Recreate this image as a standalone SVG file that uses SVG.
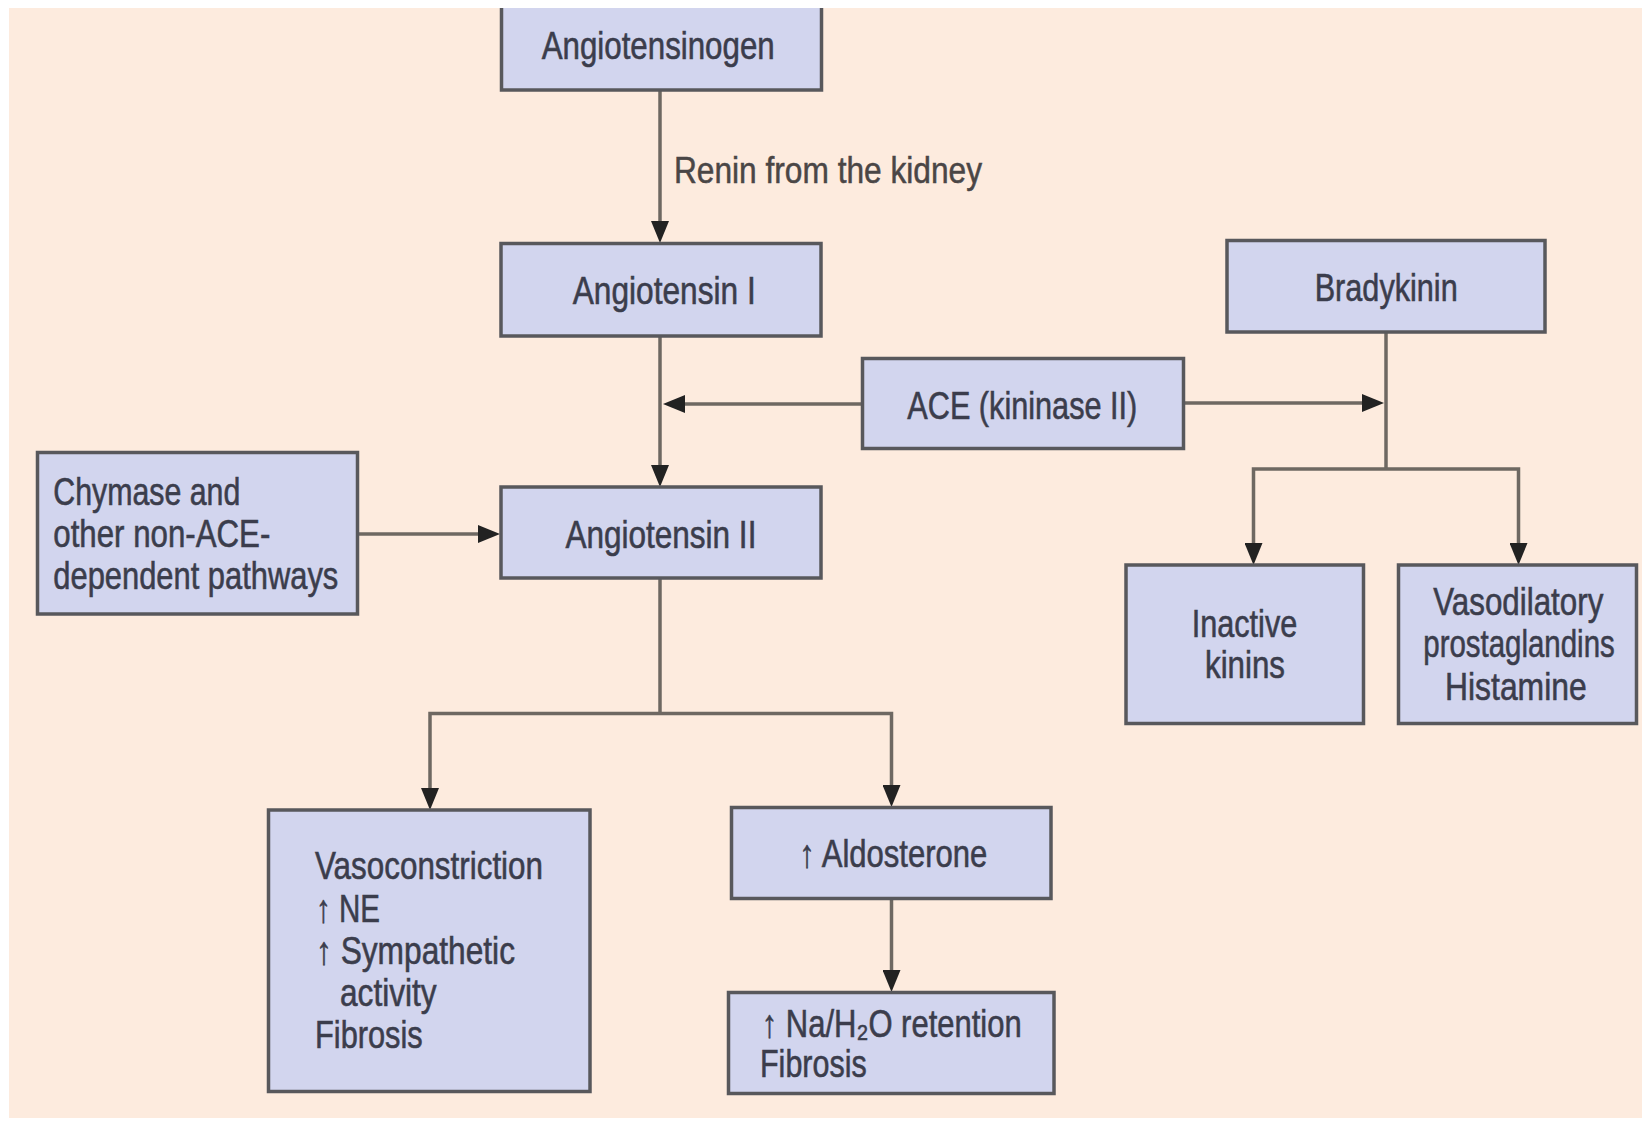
<svg xmlns="http://www.w3.org/2000/svg" width="1642" height="1121" viewBox="0 0 1642 1121">
  <style>
    .box { fill: #d2d5ee; stroke: #58585c; stroke-width: 3.5; }
    .lbl { font-family: "Liberation Sans Narrow", "Liberation Sans", Arial, sans-serif; font-size: 39px; fill: #3b3d4c; stroke: #3b3d4c; stroke-width: 0.6; }
    .note { font-family: "Liberation Sans Narrow", "Liberation Sans", Arial, sans-serif; font-size: 36px; fill: #4a4646; stroke: #4a4646; stroke-width: 0.5; }
    .wire { fill: none; stroke: #6e6862; stroke-width: 3.5; }
    .arr { marker-end: url(#head); }
  </style>
  <defs>
    <marker id="head" viewBox="0 0 22 18" refX="12" refY="9" markerWidth="22" markerHeight="18" markerUnits="userSpaceOnUse" orient="auto">
      <path d="M0,0 L22,9 L0,18 Z" fill="#222"/>
    </marker>
  </defs>

  <!-- page and panel -->
  <rect x="0" y="0" width="1642" height="1121" fill="#ffffff"/>
  <rect x="9" y="8" width="1633" height="1110" fill="#fdebde"/>

  <!-- connectors -->
  <g id="connectors">
    <line class="wire arr" x1="660" y1="91" x2="660" y2="233"/>
    <line class="wire arr" x1="660" y1="336" x2="660" y2="477"/>
    <line class="wire arr" x1="862" y1="404" x2="673" y2="404"/>
    <line class="wire arr" x1="1184" y1="403" x2="1374" y2="403"/>
    <polyline class="wire" points="1386,332 1386,469"/>
    <polyline class="wire arr" points="1386,469 1253.5,469 1253.5,555"/>
    <polyline class="wire arr" points="1386,469 1518.5,469 1518.5,555"/>
    <line class="wire arr" x1="357" y1="534" x2="490" y2="534"/>
    <polyline class="wire" points="660,578 660,713.5"/>
    <polyline class="wire arr" points="660,713.5 430,713.5 430,800"/>
    <polyline class="wire arr" points="660,713.5 891.5,713.5 891.5,797"/>
    <line class="wire arr" x1="891.5" y1="898" x2="891.5" y2="982"/>
  </g>

  <g id="n-angiotensinogen">
    <rect class="box" x="501.5" y="-20" width="320" height="110"/>
    <text class="lbl" x="541.7" y="59" textLength="233" lengthAdjust="spacingAndGlyphs">Angiotensinogen</text>
  </g>

  <text class="note" x="674" y="182.7" textLength="308" lengthAdjust="spacingAndGlyphs">Renin from the kidney</text>

  <g id="n-angiotensin-1">
    <rect class="box" x="501" y="243.5" width="320" height="92.5"/>
    <text class="lbl" x="572.7" y="304" textLength="183" lengthAdjust="spacingAndGlyphs">Angiotensin I</text>
  </g>

  <g id="n-bradykinin">
    <rect class="box" x="1227" y="240.5" width="318" height="91.5"/>
    <text class="lbl" x="1314.7" y="301" textLength="143" lengthAdjust="spacingAndGlyphs">Bradykinin</text>
  </g>

  <g id="n-ace">
    <rect class="box" x="862.5" y="358.5" width="321" height="90"/>
    <text class="lbl" x="907.3" y="419" textLength="230" lengthAdjust="spacingAndGlyphs">ACE (kininase II)</text>
  </g>

  <g id="n-chymase">
    <rect class="box" x="37.5" y="452.5" width="320" height="161.5"/>
    <text class="lbl" x="53.3" y="505" textLength="187" lengthAdjust="spacingAndGlyphs">Chymase and</text>
    <text class="lbl" x="53.3" y="546.5" textLength="217" lengthAdjust="spacingAndGlyphs">other non-ACE-</text>
    <text class="lbl" x="53.3" y="589" textLength="285" lengthAdjust="spacingAndGlyphs">dependent pathways</text>
  </g>

  <g id="n-angiotensin-2">
    <rect class="box" x="501" y="487" width="320" height="91"/>
    <text class="lbl" x="565.4" y="548" textLength="191" lengthAdjust="spacingAndGlyphs">Angiotensin II</text>
  </g>

  <g id="n-inactive-kinins">
    <rect class="box" x="1126" y="565" width="237.5" height="158.5"/>
    <text class="lbl" x="1191.7" y="637.3" textLength="105.6" lengthAdjust="spacingAndGlyphs">Inactive</text>
    <text class="lbl" x="1205" y="678.3" textLength="80" lengthAdjust="spacingAndGlyphs">kinins</text>
  </g>

  <g id="n-vasodilatory">
    <rect class="box" x="1398.5" y="565" width="238" height="158.5"/>
    <text class="lbl" x="1433.3" y="615" textLength="170" lengthAdjust="spacingAndGlyphs">Vasodilatory</text>
    <text class="lbl" transform="translate(1519 657.3) scale(0.755 1)" x="0" y="0" text-anchor="middle">prostaglandins</text>
    <text class="lbl" x="1445" y="700" textLength="141.7" lengthAdjust="spacingAndGlyphs">Histamine</text>
  </g>

  <g id="n-vasoconstriction">
    <rect class="box" x="268.5" y="810" width="321.5" height="281.5"/>
    <text class="lbl" x="315" y="879" textLength="228" lengthAdjust="spacingAndGlyphs">Vasoconstriction</text>
    <text class="lbl" x="316" y="921.7" textLength="64" lengthAdjust="spacingAndGlyphs">↑ NE</text>
    <text class="lbl" x="316" y="964" textLength="199" lengthAdjust="spacingAndGlyphs">↑ Sympathetic</text>
    <text class="lbl" x="340" y="1005.5" textLength="96.7" lengthAdjust="spacingAndGlyphs">activity</text>
    <text class="lbl" x="315" y="1048" textLength="107.7" lengthAdjust="spacingAndGlyphs">Fibrosis</text>
  </g>

  <g id="n-aldosterone">
    <rect class="box" x="731.5" y="807.5" width="319.5" height="91"/>
    <text class="lbl" x="799.3" y="867.3" textLength="188" lengthAdjust="spacingAndGlyphs">↑ Aldosterone</text>
  </g>

  <g id="n-retention">
    <rect class="box" x="728.5" y="992.5" width="325.5" height="101"/>
    <text class="lbl" x="761.7" y="1036.7" textLength="260" lengthAdjust="spacingAndGlyphs">↑ Na/H₂O retention</text>
    <text class="lbl" x="760" y="1076.7" textLength="106.7" lengthAdjust="spacingAndGlyphs">Fibrosis</text>
  </g>

  <!-- top margin of the page over the clipped first box -->
  <rect x="0" y="0" width="1642" height="8" fill="#ffffff"/>
</svg>
